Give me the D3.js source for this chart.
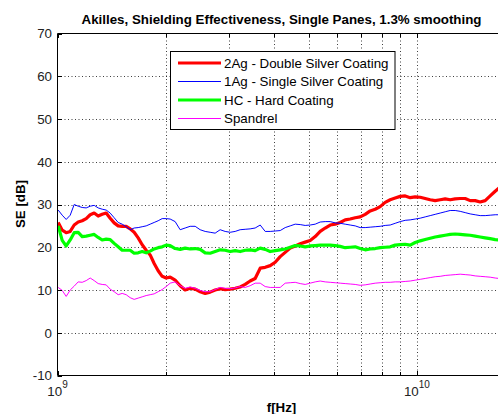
<!DOCTYPE html>
<html>
<head>
<meta charset="utf-8">
<script src="https://cdn.jsdelivr.net/npm/d3@7"></script>
<style>
  html, body { margin: 0; padding: 0; background: #ffffff; }
  svg { display: block; }
  text { font-family: "Liberation Sans", Arial, Helvetica, sans-serif; }
</style>
</head>
<body>
<div id="chart"></div>
<script>
// ---------------- data ----------------
const titleText = "Akilles, Shielding Effectiveness, Single Panes, 1.3% smoothing";
const xLabelText = "f[Hz]";
const yLabelText = "SE [dB]";

const seriesNames = [
  "2Ag - Double Silver Coating",
  "1Ag - Single Silver Coating",
  "HC - Hard Coating",
  "Spandrel"
];
const seriesColors = ["#ff0000", "#0000ff", "#00ff00", "#ff00ff"];
const seriesWidths = [3.2, 1, 3.2, 1];

const yTicks = [-10, 0, 10, 20, 30, 40, 50, 60, 70];
const xMajorTicks = [1e9, 1e10];
const xMajorBase = ["10", "10"];
const xMajorExp = ["9", "10"];
const xMinorTicks = [2e9, 3e9, 4e9, 5e9, 6e9, 7e9, 8e9, 9e9];

// frequency in GHz
const freqGHz = [
  1.0045, 1.0306, 1.0573, 1.0848, 1.1129, 1.1418, 1.1714, 1.2018, 1.2330, 1.2649,
  1.2978, 1.3315, 1.3660, 1.4014, 1.4378, 1.4751, 1.5134, 1.5527, 1.5930, 1.6343,
  1.6767, 1.7202, 1.7649, 1.8107, 1.8577, 1.9059, 1.9553, 2.0061, 2.0582, 2.1251,
  2.1943, 2.2657, 2.3395, 2.4157, 2.4943, 2.5755, 2.6593, 2.7459, 2.8353, 2.9276,
  3.0228, 3.1212, 3.2228, 3.3277, 3.4360, 3.5479, 3.6644, 3.7837, 3.9068, 4.0340,
  4.1653, 4.3009, 4.4409, 4.5855, 4.7347, 4.8888, 5.0480, 5.2123, 5.3820, 5.5572,
  5.7381, 5.9249, 6.1178, 6.3169, 6.5225, 6.7349, 6.9541, 7.1805, 7.4142, 7.6556,
  7.9048, 8.1621, 8.4278, 8.7022, 8.9855, 9.2780, 9.5800, 9.8919, 10.214, 10.546,
  10.890, 11.244, 11.610, 11.988, 12.378, 12.781, 13.197, 13.627, 14.070, 14.528,
  15.001, 15.490, 15.994, 16.515, 16.942
];

const se2Ag = [
  25.8, 24.0, 23.4, 23.7, 25.2, 25.9, 26.2, 26.7, 27.6, 28.0,
  27.3, 27.7, 28.0, 26.8, 25.7, 25.0, 24.9, 24.9, 24.3, 23.5,
  22.2, 20.6, 19.3, 18.2, 16.2, 14.5, 13.2, 12.8, 13.0, 12.3,
  11.0, 10.0, 10.4, 10.2, 9.6, 9.2, 9.5, 10.0, 10.3, 10.1,
  10.2, 10.4, 10.7, 11.3, 12.1, 12.7, 15.1, 15.3, 15.7, 16.5,
  17.8, 18.8, 19.8, 20.3, 20.8, 21.2, 21.6, 22.5, 23.7, 24.5,
  25.2, 25.4, 25.8, 26.4, 26.6, 26.9, 27.1, 27.7, 28.5, 28.9,
  29.5, 30.5, 31.1, 31.5, 31.9, 32.0, 31.6, 31.8, 31.7, 31.4,
  31.1, 30.9, 31.1, 31.3, 31.1, 31.3, 31.4, 31.4, 30.9, 30.9,
  30.6, 30.9, 32.0, 33.1, 33.9
];

const se1Ag = [
  28.7, 27.5, 26.5, 27.5, 30.0, 29.6, 29.3, 29.2, 29.6, 29.8,
  29.2, 28.9, 28.7, 28.0, 26.9, 25.8, 25.4, 24.8, 24.1, 24.5,
  24.6, 24.8, 25.0, 25.4, 25.8, 26.2, 26.7, 26.7, 26.6, 26.0,
  24.1, 24.5, 24.9, 24.9, 24.1, 23.7, 23.5, 23.3, 24.1, 23.7,
  23.5, 23.7, 24.1, 24.2, 24.3, 24.5, 25.2, 23.7, 23.7, 23.8,
  23.9, 24.6, 25.0, 25.4, 25.3, 25.1, 25.2, 25.4, 25.9, 26.0,
  26.0, 25.7, 25.6, 25.4, 25.2, 25.0, 24.6, 24.6, 24.7, 24.8,
  24.9, 25.1, 25.2, 25.6, 26.0, 26.3, 26.4, 26.6, 26.8, 27.1,
  27.4, 27.7, 28.0, 28.3, 28.6, 28.6, 28.4, 28.1, 27.8, 27.6,
  27.4, 27.4, 27.5, 27.6, 27.6
];

const seHC = [
  25.0, 21.6, 20.3, 21.7, 23.4, 23.5, 22.5, 22.6, 22.8, 23.0,
  22.3, 21.7, 21.9, 21.8, 20.9, 20.1, 19.3, 19.3, 19.3, 18.6,
  18.7, 19.0, 18.7, 19.1, 19.6, 19.9, 20.1, 20.5, 20.4, 19.7,
  19.5, 19.8, 19.6, 19.7, 19.5, 18.7, 18.6, 19.0, 19.4, 19.3,
  19.0, 19.2, 19.0, 19.3, 19.4, 19.2, 19.8, 19.5, 19.0, 19.2,
  19.4, 19.6, 20.0, 20.4, 20.3, 20.1, 20.3, 20.4, 20.5, 20.5,
  20.5, 20.4, 20.2, 19.9, 20.0, 20.1, 19.7, 19.4, 19.6, 19.7,
  19.9, 20.0, 20.1, 20.5, 20.6, 20.7, 20.5, 21.1, 21.5, 21.8,
  22.1, 22.4, 22.6, 22.8, 23.0, 23.1, 23.0, 22.9, 22.8, 22.6,
  22.4, 22.2, 22.0, 21.8, 21.7
];

const seSpandrel = [
  10.6, 9.9, 8.5, 10.0, 10.9, 11.9, 11.8, 12.2, 12.8, 12.2,
  11.5, 11.3, 11.2, 10.2, 9.6, 8.9, 9.2, 8.9, 8.2, 7.8,
  8.1, 8.4, 8.7, 8.9, 9.1, 9.6, 10.1, 10.8, 11.6, 11.9,
  11.0, 10.4, 10.7, 10.4, 9.9, 9.6, 9.6, 10.1, 10.6, 10.4,
  10.3, 10.5, 10.8, 10.6, 11.0, 11.6, 11.6, 10.8, 10.6, 10.6,
  10.6, 11.6, 11.7, 11.8, 11.5, 11.3, 11.6, 11.9, 12.1, 11.9,
  11.8, 11.7, 11.6, 11.5, 11.4, 11.3, 11.1, 11.2, 11.4, 11.6,
  11.7, 11.8, 11.8, 11.9, 11.9, 12.0, 12.1, 12.3, 12.5, 12.7,
  12.9, 13.1, 13.2, 13.4, 13.5, 13.6, 13.7, 13.6, 13.5, 13.3,
  13.2, 13.1, 13.0, 12.8, 12.7
];

const seriesValues = [se2Ag, se1Ag, seHC, seSpandrel];

// ---------------- layout ----------------
const W = 498, H = 414;
const plotLeft = 57.5, plotRight = 506, plotTop = 33.5, plotBottom = 375.5;
const fontSize = 13.33;

const svg = d3.select("#chart").append("svg")
  .attr("width", W).attr("height", H)
  .style("background", "#ffffff");

const x = d3.scaleLog().domain([1e9, 1.77e10]).range([plotLeft, plotRight]);
const y = d3.scaleLinear().domain([-10, 70]).range([plotBottom, plotTop]);

// grid
const grid = svg.append("g");
grid.selectAll("line.vg").data(xMinorTicks.concat([1e10])).enter().append("line")
  .attr("x1", d => Math.round(x(d)) + 0.5).attr("x2", d => Math.round(x(d)) + 0.5)
  .attr("y1", plotTop).attr("y2", plotBottom)
  .attr("stroke", "#000").attr("stroke-width", 1)
  .attr("stroke-dasharray", "1,2.5").attr("opacity", 0.75);
grid.selectAll("line.hg").data(yTicks.filter(v => v > -10 && v < 70)).enter().append("line")
  .attr("y1", d => Math.round(y(d)) + 0.5).attr("y2", d => Math.round(y(d)) + 0.5)
  .attr("x1", plotLeft).attr("x2", plotRight)
  .attr("stroke", "#000").attr("stroke-width", 1)
  .attr("stroke-dasharray", "1,2.5").attr("opacity", 0.75);

// clip
svg.append("clipPath").attr("id", "clip").append("rect")
  .attr("x", plotLeft).attr("y", plotTop)
  .attr("width", plotRight - plotLeft).attr("height", plotBottom - plotTop);

const line = d3.line()
  .x((d, i) => x(freqGHz[i] * 1e9))
  .y(d => y(d));

const lines = svg.append("g").attr("clip-path", "url(#clip)");
seriesValues.forEach((vals, k) => {
  lines.append("path")
    .datum(vals)
    .attr("d", line)
    .attr("fill", "none")
    .attr("stroke", seriesColors[k])
    .attr("stroke-width", seriesWidths[k])
    .attr("stroke-linejoin", "round");
});

// axes box (left, bottom, top)
const axisG = svg.append("g");
axisG.append("line").attr("x1", plotLeft).attr("x2", plotLeft)
  .attr("y1", plotTop).attr("y2", plotBottom).attr("stroke", "#000");
axisG.append("line").attr("x1", plotLeft).attr("x2", plotRight)
  .attr("y1", plotBottom).attr("y2", plotBottom).attr("stroke", "#000");
axisG.append("line").attr("x1", plotLeft).attr("x2", plotRight)
  .attr("y1", plotTop).attr("y2", plotTop).attr("stroke", "#000");

// y ticks (inward) and labels
axisG.selectAll("line.yt").data(yTicks).enter().append("line")
  .attr("x1", plotLeft).attr("x2", plotLeft + 4.5)
  .attr("y1", d => Math.round(y(d)) + 0.5).attr("y2", d => Math.round(y(d)) + 0.5)
  .attr("stroke", "#000");
axisG.selectAll("text.yl").data(yTicks).enter().append("text")
  .attr("x", 52).attr("y", d => y(d))
  .attr("dy", "0.36em")
  .attr("text-anchor", "end")
  .attr("font-size", fontSize)
  .attr("fill", "#222")
  .text(d => d);

// x ticks (inward on bottom and top)
const allX = xMinorTicks.concat(xMajorTicks);
axisG.selectAll("line.xtb").data(allX).enter().append("line")
  .attr("x1", d => Math.round(x(d)) + 0.5).attr("x2", d => Math.round(x(d)) + 0.5)
  .attr("y1", plotBottom).attr("y2", d => plotBottom - (xMajorTicks.includes(d) ? 4.5 : 3.5))
  .attr("stroke", "#000");
axisG.selectAll("line.xtt").data(allX).enter().append("line")
  .attr("x1", d => Math.round(x(d)) + 0.5).attr("x2", d => Math.round(x(d)) + 0.5)
  .attr("y1", plotTop).attr("y2", d => plotTop + (xMajorTicks.includes(d) ? 4.5 : 3.5))
  .attr("stroke", "#000");

// x major labels 10^n
xMajorTicks.forEach((v, i) => {
  const t = axisG.append("text")
    .attr("x", x(v)).attr("y", 396)
    .attr("text-anchor", "middle")
    .attr("font-size", fontSize)
    .attr("fill", "#222");
  t.append("tspan").text(xMajorBase[i]);
  t.append("tspan").attr("dy", -8).attr("font-size", 10).text(xMajorExp[i]);
});

// title & axis labels
svg.append("text")
  .attr("x", 281.5).attr("y", 24)
  .attr("text-anchor", "middle")
  .attr("font-size", fontSize).attr("font-weight", "bold")
  .attr("fill", "#000")
  .text(titleText);

svg.append("text")
  .attr("x", 281.5).attr("y", 412)
  .attr("text-anchor", "middle")
  .attr("font-size", fontSize).attr("font-weight", "bold")
  .attr("fill", "#000")
  .text(xLabelText);

svg.append("text")
  .attr("transform", "translate(25,204) rotate(-90)")
  .attr("text-anchor", "middle")
  .attr("font-size", fontSize).attr("font-weight", "bold")
  .attr("fill", "#000")
  .text(yLabelText);

// legend
const lg = svg.append("g");
lg.append("rect")
  .attr("x", 170.5).attr("y", 51.5).attr("width", 224.5).attr("height", 78)
  .attr("fill", "#fff").attr("stroke", "#000").attr("stroke-width", 1);
const legendY = [63, 81.5, 100, 118.5];
seriesNames.forEach((name, k) => {
  lg.append("line")
    .attr("x1", 178).attr("x2", 221)
    .attr("y1", legendY[k]).attr("y2", legendY[k])
    .attr("stroke", seriesColors[k]).attr("stroke-width", seriesWidths[k]);
  lg.append("text")
    .attr("x", 224).attr("y", legendY[k]).attr("dy", "0.36em")
    .attr("font-size", fontSize).attr("fill", "#000")
    .text(name);
});
</script>
</body>
</html>
